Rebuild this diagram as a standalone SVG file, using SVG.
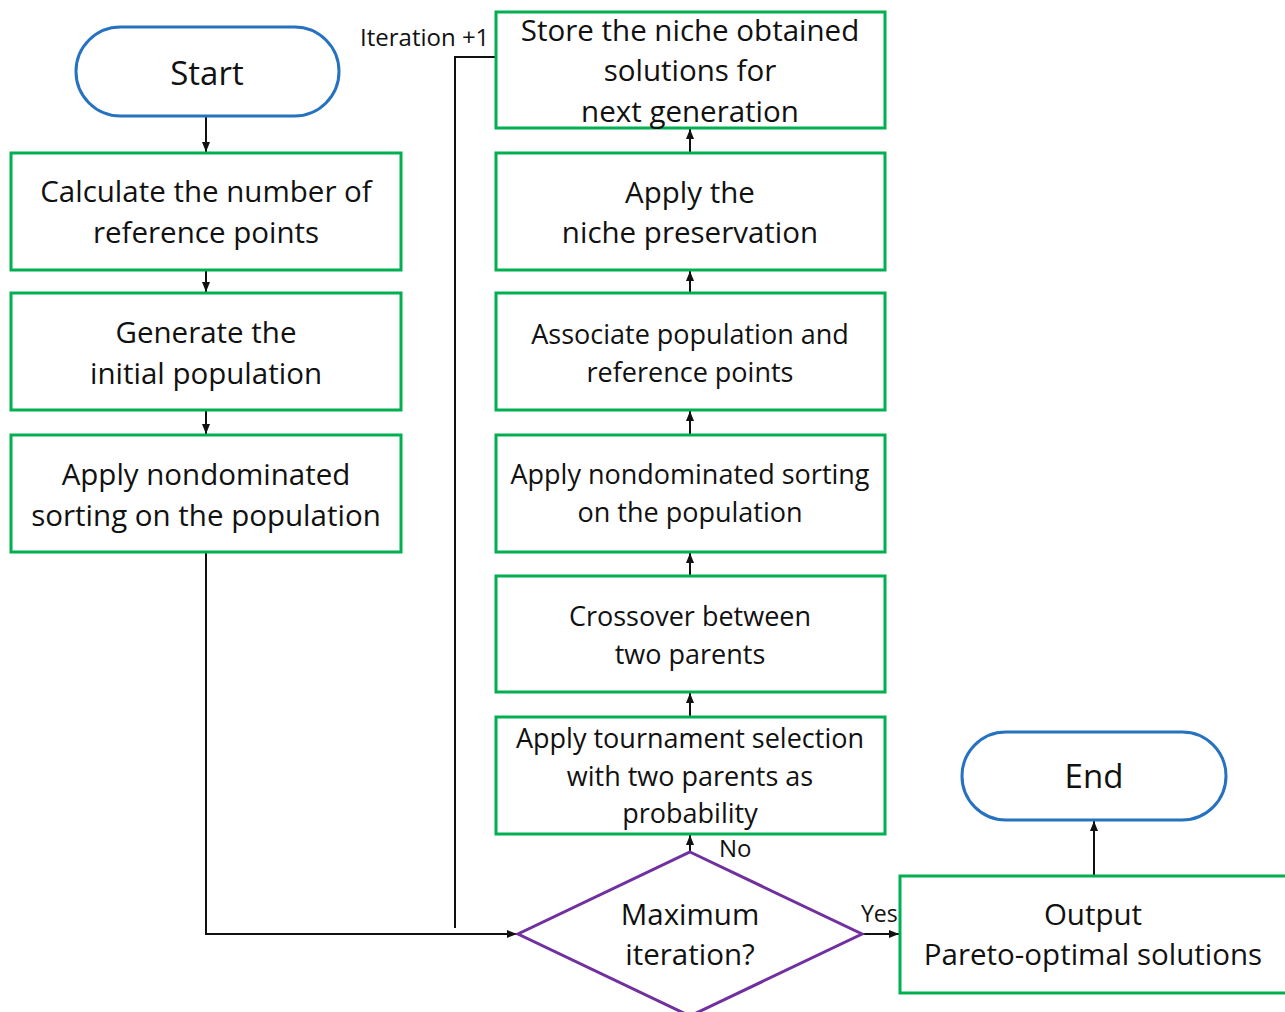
<svg xmlns="http://www.w3.org/2000/svg" width="1285" height="1012" viewBox="0 0 1285 1012">
<style>
  .term { fill: #ffffff; stroke: #2672c0; stroke-width: 3; }
  .proc { fill: #ffffff; stroke: #00b050; stroke-width: 3; }
  .dec { fill: #ffffff; stroke: #7030a0; stroke-width: 3; }
  .t { font-family: "Open Sans", "Noto Sans", sans-serif; font-size: 29.5px; fill: #111; text-anchor: middle; }
  .s { font-size: 27px; }
  .tl { font-family: "Open Sans", "Noto Sans", sans-serif; font-size: 33px; fill: #111; text-anchor: middle; }
  .lbl { font-family: "Open Sans", "Noto Sans", sans-serif; font-size: 24px; fill: #111; }
  .c { fill: none; stroke: #111; stroke-width: 2; }
</style>
<defs>
  <marker id="ah" viewBox="0 0 10 10" refX="10" refY="5" markerWidth="5" markerHeight="5" orient="auto" markerUnits="strokeWidth">
    <path d="M0,1 L10,5 L0,9 z" fill="#111"/>
  </marker>
</defs>
<rect width="1285" height="1012" fill="#ffffff"/>

<g id="connectors">
  <path class="c" d="M206,116 L206,152" marker-end="url(#ah)"/>
  <path class="c" d="M206,270 L206,292" marker-end="url(#ah)"/>
  <path class="c" d="M206,410 L206,434" marker-end="url(#ah)"/>
  <path class="c" d="M206,552 L206,934 L517,934" marker-end="url(#ah)"/>
  <path class="c" d="M690,852 L690,835" marker-end="url(#ah)"/>
  <path class="c" d="M690,717 L690,693" marker-end="url(#ah)"/>
  <path class="c" d="M690,576 L690,553" marker-end="url(#ah)"/>
  <path class="c" d="M690,435 L690,411" marker-end="url(#ah)"/>
  <path class="c" d="M690,293 L690,271" marker-end="url(#ah)"/>
  <path class="c" d="M690,153 L690,129" marker-end="url(#ah)"/>
  <path class="c" d="M455,928 L455,57 L496,57"/>
  <path class="c" d="M862,934 L899,934" marker-end="url(#ah)"/>
  <path class="c" d="M1094,876 L1094,821" marker-end="url(#ah)"/>
  <text class="lbl" x="360" y="46">Iteration +1</text>
  <text class="lbl" x="719" y="857">No</text>
  <text class="lbl" x="861" y="922" style="font-size:23px">Yes</text>
</g>

<g id="start">
  <rect class="term" x="76" y="27" width="263" height="89" rx="44.5"/>
  <text class="tl" x="207" y="85">Start</text>
</g>
<g id="calc">
  <rect class="proc" x="11" y="153" width="390" height="117"/>
  <text class="t" x="206" y="202">Calculate the number of</text>
  <text class="t" x="206" y="243">reference points</text>
</g>
<g id="generate">
  <rect class="proc" x="11" y="293" width="390" height="117"/>
  <text class="t" x="206" y="343">Generate the</text>
  <text class="t" x="206" y="384">initial population</text>
</g>
<g id="sort1">
  <rect class="proc" x="11" y="435" width="390" height="117"/>
  <text class="t" x="206" y="485">Apply nondominated</text>
  <text class="t" x="206" y="526">sorting on the population</text>
</g>
<g id="store">
  <rect class="proc" x="496" y="12" width="389" height="116"/>
  <text class="t" x="690" y="41">Store the niche obtained</text>
  <text class="t" x="690" y="81">solutions for</text>
  <text class="t" x="690" y="122">next generation</text>
</g>
<g id="niche">
  <rect class="proc" x="496" y="153" width="389" height="117"/>
  <text class="t" x="690" y="203">Apply the</text>
  <text class="t" x="690" y="243">niche preservation</text>
</g>
<g id="associate">
  <rect class="proc" x="496" y="293" width="389" height="117"/>
  <text class="t s" x="690" y="344">Associate population and</text>
  <text class="t s" x="690" y="382">reference points</text>
</g>
<g id="sort2">
  <rect class="proc" x="496" y="435" width="389" height="117"/>
  <text class="t s" x="690" y="484">Apply nondominated sorting</text>
  <text class="t s" x="690" y="522">on the population</text>
</g>
<g id="crossover">
  <rect class="proc" x="496" y="576" width="389" height="116"/>
  <text class="t s" x="690" y="626">Crossover between</text>
  <text class="t s" x="690" y="664">two parents</text>
</g>
<g id="tournament">
  <rect class="proc" x="496" y="717" width="389" height="117"/>
  <text class="t s" x="690" y="748">Apply tournament selection</text>
  <text class="t s" x="690" y="786">with two parents as</text>
  <text class="t s" x="690" y="823">probability</text>
</g>
<g id="decision">
  <polygon class="dec" points="690,852 862,934 690,1016 518,934"/>
  <text class="t" x="690" y="925">Maximum</text>
  <text class="t" x="690" y="965">iteration?</text>
</g>
<g id="output">
  <rect class="proc" x="900" y="876" width="392" height="117"/>
  <text class="t" x="1093" y="925">Output</text>
  <text class="t" x="1093" y="965">Pareto-optimal solutions</text>
</g>
<g id="end">
  <rect class="term" x="962" y="732" width="264" height="88" rx="44"/>
  <text class="tl" x="1094" y="788">End</text>
</g>
</svg>
